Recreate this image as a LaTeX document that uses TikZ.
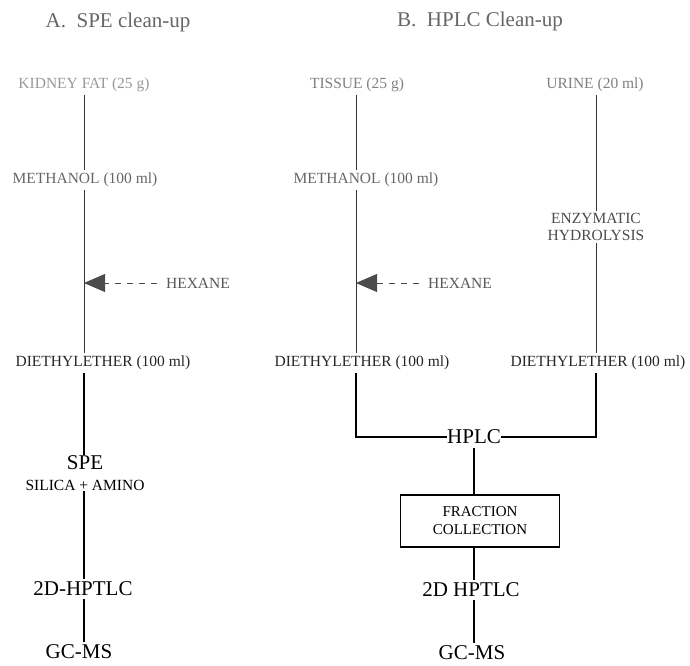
\documentclass[tikz,border=0pt]{standalone}
\usepackage{fontspec}
\setmainfont{Liberation Serif}
\usetikzlibrary{arrows.meta}

\begin{document}
\begin{tikzpicture}[x=1pt,y=-1pt,
    lbl/.style={inner sep=3pt, font=\fontsize{15.5}{17}\selectfont},
    big/.style={inner sep=3pt, font=\fontsize{21}{23}\selectfont},
    head/.style={inner sep=0pt, text=black!60, font=\fontsize{21}{23}\selectfont},
    flow/.style={line width=1pt, black!80},
    feed/.style={line width=0.8pt, black!70, dash pattern=on 6pt off 6pt,
        -{Triangle[length=21pt,width=18pt]}}]
    \useasboundingbox (0,0) rectangle (690,665);
    % column positions
    \coordinate (colA) at (84,0);
    \coordinate (colB) at (356,0);
    \coordinate (colC) at (596,0);
    \coordinate (colH) at (474,0);

    % headings
    \node[head] (titleA) at (118,22) {A.\ \ SPE clean-up};
    \node[head] (titleB) at (480,21) {B.\ \ HPLC Clean-up};

    % A. SPE clean-up
    \node[lbl, text=black!40] (kfat) at (84,85) {KIDNEY FAT (25 g)};
    \node[lbl, text=black!60] (methA) at (85,180) {METHANOL (100 ml)};
    \node[lbl, text=black!65] (hexA) at (198,283) {HEXANE};
    \node[lbl, text=black!85] (dietA) at (103,363) {DIETHYLETHER (100 ml)};
    \node[big, inner sep=1pt] (spe) at (85,463) {SPE};
    \node[lbl, inner sep=1pt] (silica) at (85,485) {SILICA + AMINO};
    \node[big] (hptlcA) at (83,589) {2D-HPTLC};
    \node[big] (gcmsA) at (79,652) {GC-MS};

    \draw[flow] (kfat.south -| colA) -- (methA.north -| colA);
    \draw[flow] (methA.south -| colA) -- (dietA.north -| colA);
    \draw[feed] ([xshift=-6pt]hexA.west) -- (hexA.west -| colA);
    \draw[flow, black, line width=1.4pt] (dietA.south -| colA) -- (spe.north -| colA);
    \draw[flow, black, line width=1.4pt] (silica.south -| colA) -- (hptlcA.north -| colA);
    \draw[flow, black, line width=1.4pt] (hptlcA.south -| colA) -- (gcmsA.north -| colA);

    % B. HPLC clean-up
    \node[lbl, text=black!50] (tissue) at (357,85) {TISSUE (25 g)};
    \node[lbl, text=black!50] (urine) at (595,85) {URINE (20 ml)};
    \node[lbl, text=black!60] (methB) at (366,180) {METHANOL (100 ml)};
    \node[lbl, text=black!70, align=center, inner sep=2pt] (enzy) at (596,227) {ENZYMATIC\\HYDROLYSIS};
    \node[lbl, text=black!65] (hexB) at (460,283) {HEXANE};
    \node[lbl, text=black!85] (dietB) at (362,363) {DIETHYLETHER (100 ml)};
    \node[lbl, text=black!85] (dietC) at (598,363) {DIETHYLETHER (100 ml)};
    \node[big, inner sep=0pt] (hplc) at (474,437) {HPLC};
    \node[draw, line width=1.2pt, lbl, align=center, minimum width=159pt,
        minimum height=52pt, font=\fontsize{15}{18}\selectfont] (frac) at (480,521) {FRACTION\\COLLECTION};
    \node[big] (hptlcB) at (471,590) {2D HPTLC};
    \node[big] (gcmsB) at (472,653) {GC-MS};

    \draw[flow] (tissue.south -| colB) -- (methB.north -| colB);
    \draw[flow] (methB.south -| colB) -- (dietB.north -| colB);
    \draw[feed] ([xshift=-6pt]hexB.west) -- (hexB.west -| colB);
    \draw[flow] (urine.south -| colC) -- (enzy.north -| colC);
    \draw[flow] (enzy.south -| colC) -- (dietC.north -| colC);
    \draw[flow, black, line width=1.2pt] (dietB.south -| colB) |- (hplc.west);
    \draw[flow, black, line width=1.2pt] (dietC.south -| colC) |- (hplc.east);
    \draw[flow, black, line width=1.4pt] ([yshift=-4pt]hplc.south -| colH) -- (frac.north -| colH);
    \draw[flow, black, line width=1.4pt] (frac.south -| colH) -- (hptlcB.north -| colH);
    \draw[flow, black, line width=1.4pt] (hptlcB.south -| colH) -- (gcmsB.north -| colH);
\end{tikzpicture}
\end{document}
